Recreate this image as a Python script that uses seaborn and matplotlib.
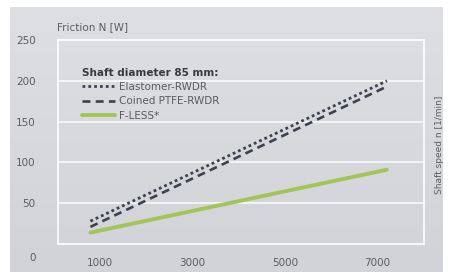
import numpy as np
import pandas as pd
import seaborn as sns
import matplotlib.pyplot as plt
import matplotlib.transforms as mtransforms
from matplotlib.lines import Line2D

# data
speed = [800, 7200]
elastomer = [28, 200]
coined_ptfe = [21, 193]
f_less = [14, 91]
series_names = ["Elastomer-RWDR", "Coined PTFE-RWDR", "F-LESS*"]
x_ticks = [1000, 3000, 5000, 7000]
y_ticks = [0, 50, 100, 150, 200, 250]

df = pd.DataFrame({
    "speed": speed * 3,
    "friction": elastomer + coined_ptfe + f_less,
    "seal": [n for n in series_names for _ in speed],
})

sns.set_style("white")
plt.rcParams['font.family'] = ['DejaVu Sans']
txt = "#5c5c60"

fig = plt.figure(figsize=(4.5, 2.72), dpi=100, facecolor="white")

# gray gradient background panel
bg = fig.add_axes([10 / 450, 0, 433 / 450, 265 / 272])
grad = np.linspace(0.0, 1.0, 100).reshape(-1, 1)
bg.imshow(grad, aspect="auto", cmap=sns.blend_palette(["#dedfe2", "#d2d3d8"], as_cmap=True),
          extent=[0, 1, 0, 1], origin="upper")
bg.axis("off")

ax = fig.add_axes([58 / 450, 28 / 272, 366 / 450, 204 / 272])
ax.set_facecolor("none")

palette = {"Elastomer-RWDR": "#3d4150", "Coined PTFE-RWDR": "#3d4150", "F-LESS*": "#a5c458"}
sns.lineplot(data=df, x="speed", y="friction", hue="seal", palette=palette, ax=ax, legend=False)
styles = [((0, (1, 1.1)), 2.0), ((0, (3, 2)), 1.9), ("-", 2.8)]
for line, (ls, lw) in zip(ax.get_lines(), styles):
    line.set_linestyle(ls)
    line.set_linewidth(lw)

ax.set_xlim(100, 8000)
ax.set_ylim(0, 250)
ax.set_xticks(x_ticks)
ax.set_yticks(y_ticks)
ax.set_xticks([2000, 4000, 6000], minor=True)
ax.tick_params(axis="both", which="major", length=0, labelsize=7.5, labelcolor=txt)
ax.tick_params(axis="x", which="major", pad=10)
ax.tick_params(axis="y", which="major", pad=16)
ax.tick_params(axis="x", which="minor", direction="in", length=3, width=2, color="white")
ax.set_xlabel("")
ax.set_ylabel("")
for y in [50, 100, 150, 200]:
    ax.axhline(y, color="white", lw=1.2, alpha=0.85, zorder=0)
for s in ax.spines.values():
    s.set_color("white")
    s.set_linewidth(1.2)

# push the 0 label down into the x tick row like the original
zero = ax.get_yaxis().get_major_ticks()[0].label1
zero.set_transform(zero.get_transform()
                   + mtransforms.ScaledTranslation(0, -13 / 100, fig.dpi_scale_trans))

fig.text(57 / 450, 1 - 27 / 272, "Friction N [W]", fontsize=7.5, color=txt, va="center")
fig.text(440 / 450, 1 - 145 / 272, "Shaft speed n [1/min]", fontsize=6.5, color=txt,
         rotation=90, va="center", ha="center")

handles = [Line2D([], [], color=l.get_color(), ls=ls, lw=lw)
           for l, (ls, lw) in zip(ax.get_lines(), styles)]
leg = ax.legend(handles, series_names, title="Shaft diameter 85 mm:", loc="upper left",
                bbox_to_anchor=(0.05, 0.89), frameon=False, fontsize=7.5,
                handlelength=3.2, handletextpad=0.4, labelspacing=0.42,
                borderpad=0, labelcolor=txt, alignment="left")
leg.get_title().set_fontweight("bold")
leg.get_title().set_fontsize(7.5)
leg.get_title().set_color("#3a3a3e")

fig.savefig("out.png", dpi=100, facecolor="white")
